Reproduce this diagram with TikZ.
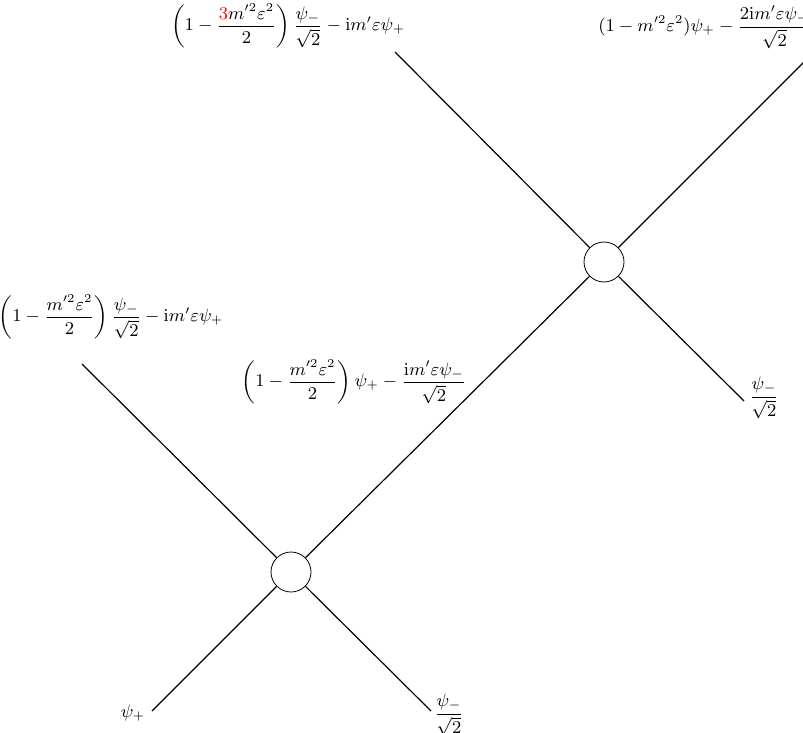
\documentclass[tikz,border=0pt]{standalone}
\usepackage{amsmath,amssymb}
\usetikzlibrary{positioning}
\tikzset{
    every node/.style={font=\small},
    blob/.style={circle,draw,minimum size=20pt,inner sep=0pt},
    leg/.style={draw,semithick},
    amp/.style={inner sep=1pt}
}
\begin{document}
\begin{tikzpicture}[x=0.5pt,y=-0.5pt]
\useasboundingbox (0,0) rectangle (803,733);
\node[blob] (vlow) at (291,572) {};
\node[blob] (vup) at (604,262) {};
\coordinate (inplus) at (152,711);
\coordinate (inminus) at (431,711);
\coordinate (outlow) at (82,364);
\coordinate (outright) at (744,401);
\coordinate (outup) at (395,52);
\coordinate (outtop) at (814,52);
\draw[leg] (inplus) -- (vlow);
\draw[leg] (inminus) -- (vlow);
\draw[leg] (vlow) -- (outlow);
\draw[leg] (vlow) -- (vup);
\draw[leg] (vup) -- (outright);
\draw[leg] (vup) -- (outup);
\draw[leg] (vup) -- (outtop);
\node[amp] (labplus) at (133,713) {$\psi_+$};
\node[amp] (labminus) at (449,715) {$\dfrac{\psi_-}{\sqrt{2}}$};
\node[amp] (labright) at (764,398) {$\dfrac{\psi_-}{\sqrt{2}}$};
\node[amp] (labmid) at (354,382) {$\left(1-\dfrac{m'^2\varepsilon^2}{2}\right)\psi_+-\dfrac{\mathrm{i}m'\varepsilon\psi_-}{\sqrt{2}}$};
\node[amp] (lableft) at (111,317) {$\left(1-\dfrac{m'^2\varepsilon^2}{2}\right)\dfrac{\psi_-}{\sqrt{2}}-\mathrm{i}m'\varepsilon\psi_+$};
\node[amp] (labtop) at (288,26) {$\left(1-\dfrac{{\color{red}3}m'^2\varepsilon^2}{2}\right)\dfrac{\psi_-}{\sqrt{2}}-\mathrm{i}m'\varepsilon\psi_+$};
\node[amp] (labtopright) at (705,27) {$(1-m'^2\varepsilon^2)\psi_+-\dfrac{2\mathrm{i}m'\varepsilon\psi_-}{\sqrt{2}}$};
\end{tikzpicture}
\end{document}
